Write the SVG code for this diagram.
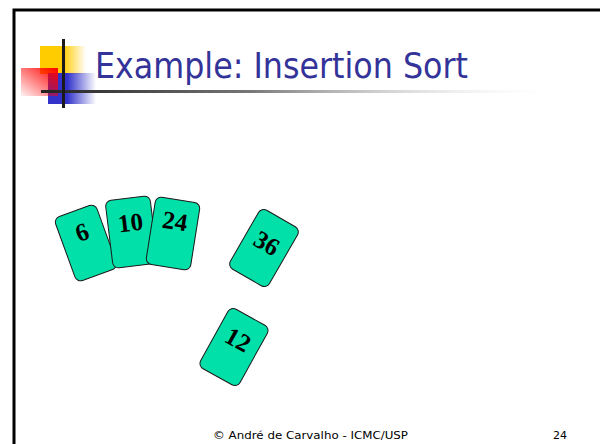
<svg xmlns="http://www.w3.org/2000/svg" width="600" height="444" viewBox="0 0 600 444">
  <style>
    .frame { fill: none; stroke: #000; stroke-width: 3; }
    .card rect { fill: #00E0A8; stroke: #1a1a1a; stroke-width: 1; }
    .card text { font-family: "Liberation Serif", "Times New Roman", serif; font-weight: bold; font-size: 25px; fill: #000; text-anchor: middle; }
    .title { font-family: "DejaVu Sans", Verdana, sans-serif; font-size: 35px; fill: #333399; }
    .foot { font-family: "DejaVu Sans", Verdana, sans-serif; font-size: 11px; fill: #000; }
  </style>
  <defs>
    <linearGradient id="gYellow" x1="0" y1="0" x2="1" y2="0">
      <stop offset="0" stop-color="#FFCC00"/>
      <stop offset="0.5" stop-color="#FFCC00"/>
      <stop offset="1" stop-color="#FFCC00" stop-opacity="0"/>
    </linearGradient>
    <linearGradient id="gBlue" x1="0" y1="0" x2="1" y2="0">
      <stop offset="0" stop-color="#3333CC"/>
      <stop offset="0.4" stop-color="#3333CC"/>
      <stop offset="1" stop-color="#3333CC" stop-opacity="0"/>
    </linearGradient>
    <linearGradient id="gRed" x1="1" y1="0" x2="0" y2="1">
      <stop offset="0" stop-color="#FF0000"/>
      <stop offset="1" stop-color="#FF0000" stop-opacity="0.05"/>
    </linearGradient>
    <linearGradient id="gRule" x1="0" y1="0" x2="1" y2="0">
      <stop offset="0" stop-color="#222"/>
      <stop offset="0.4" stop-color="#777"/>
      <stop offset="1" stop-color="#fff" stop-opacity="0"/>
    </linearGradient>
  </defs>

  <rect width="600" height="444" fill="#fff"/>
  <!-- slide frame: top and left edges -->
  <path class="frame" d="M14 444 V10 H600"/>

  <!-- title ornament -->
  <g id="ornament">
    <rect x="40" y="46" width="46" height="28" fill="url(#gYellow)"/>
    <rect x="48" y="73" width="48" height="31" fill="url(#gBlue)"/>
    <rect x="21" y="68" width="37" height="28" fill="url(#gRed)"/>
    <rect x="41" y="90" width="524" height="3" fill="url(#gRule)"/>
    <rect x="62" y="39" width="3" height="69" fill="#1a1a1a"/>
  </g>

  <text class="title" x="95" y="78" textLength="373" lengthAdjust="spacingAndGlyphs">Example: Insertion Sort</text>

  <!-- cards -->
  <g id="card-6" class="card" transform="translate(86 243) rotate(-20)">
    <rect x="-22" y="-34" width="44" height="68" rx="6"/>
    <text x="0" y="-3">6</text>
  </g>
  <g id="card-10" class="card" transform="translate(131.5 232) rotate(-7)">
    <rect x="-22.5" y="-34" width="45" height="68" rx="6"/>
    <text x="0" y="-1">10</text>
  </g>
  <g id="card-24" class="card" transform="translate(173 233.5) rotate(9)">
    <rect x="-22.5" y="-34" width="45" height="68" rx="6"/>
    <text x="0" y="-4">24</text>
  </g>
  <g id="card-36" class="card" transform="translate(264 248) rotate(30)">
    <rect x="-22.5" y="-34" width="45" height="68" rx="6"/>
    <text x="0" y="3">36</text>
  </g>
  <g id="card-12" class="card" transform="translate(234 347) rotate(29)">
    <rect x="-22.5" y="-34" width="45" height="68" rx="6"/>
    <text x="0" y="0">12</text>
  </g>

  <!-- footer -->
  <text class="foot" x="213" y="439" textLength="195" lengthAdjust="spacingAndGlyphs">© André de Carvalho - ICMC/USP</text>
  <text class="foot" x="553" y="439">24</text>
</svg>
